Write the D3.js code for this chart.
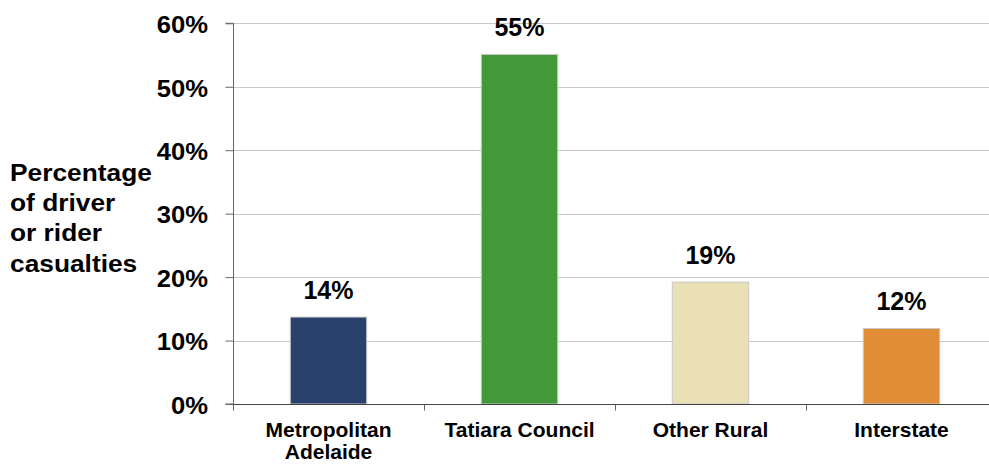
<!DOCTYPE html>
<html><head><meta charset="utf-8">
<script src="https://cdn.jsdelivr.net/npm/d3@7/dist/d3.min.js"></script>
<style>body{margin:0;background:#fff}svg{display:block}text{font-family:Arial,"Liberation Sans",sans-serif;font-weight:bold;fill:#000}</style>
</head><body>
<svg id="c" width="989" height="464"></svg>
<script>
const categories = [["Metropolitan","Adelaide"],["Tatiara Council"],["Other Rural"],["Interstate"]];
const values = [13.7, 55.1, 19.2, 11.9];
const labels = ["14%","55%","19%","12%"];
const colors = ["#2b416d","#43983a","#e9e0b6","#e18c36"];
const yTicks = [0,10,20,30,40,50,60];
const yTitle = ["Percentage","of driver","or rider","casualties"];

const svg = d3.select("#c");
const x0 = 233, x1 = 997, yTop = 23.3, yBot = 404;
const x = d3.scaleBand().domain(d3.range(categories.length)).range([x0, x1]).paddingInner(0.6).paddingOuter(0.3);
const xb = d3.scaleBand().domain(d3.range(categories.length)).range([x0, x1]);
const y = d3.scaleLinear().domain([0,60]).range([yBot, yTop]);

// gridlines
svg.append("g").selectAll("line").data(yTicks.slice(1)).join("line")
  .attr("x1", x0).attr("x2", x1).attr("y1", d=>Math.round(y(d))+0.5).attr("y2", d=>Math.round(y(d))+0.5)
  .attr("stroke", "#c8c8c8").attr("stroke-width", 1);

// bars
svg.append("g").selectAll("rect").data(values).join("rect")
  .attr("x", (d,i)=>x(i)).attr("width", x.bandwidth())
  .attr("y", d=>y(d)).attr("height", d=>yBot - y(d))
  .attr("fill", (d,i)=>colors[i]).attr("stroke", "#c8c8c8").attr("stroke-width", 1);

// value labels
svg.append("g").selectAll("text").data(values).join("text")
  .attr("x", (d,i)=>x(i)+x.bandwidth()/2).attr("y", d=>y(d)-18)
  .attr("text-anchor","middle").style("font-size","25px")
  .text((d,i)=>labels[i]);

// y axis
const yAxis = d3.axisLeft(y).tickValues(yTicks).tickFormat(d=>d+"%").tickSize(8).tickPadding(17);
const gy = svg.append("g").attr("transform", `translate(${x0+0.5},0)`).call(yAxis);
gy.select(".domain").attr("stroke","#666").attr("d", `M-8,${y(60)}H0V${yBot}H-8`);
gy.selectAll(".tick line").attr("stroke","#666");
gy.selectAll(".tick text").attr("x",0).attr("dy","9.3px")
  .attr("transform","translate(-25.5,0) scale(1.09,1)")
  .style("font-size","23.5px").style("font-family","Arial,'Liberation Sans',sans-serif").style("font-weight","bold").attr("fill","#000");

// x axis
const gx = svg.append("g").attr("transform", `translate(0,${yBot+0.5})`);
gx.append("line").attr("x1", x0).attr("x2", x1).attr("stroke","#444");
const bounds = d3.range(categories.length+1).map(i=> i<categories.length ? xb(i) : x1);
gx.selectAll("line.tk").data(bounds).join("line").attr("class","tk")
  .attr("x1", d=>Math.round(d)+0.5).attr("x2", d=>Math.round(d)+0.5).attr("y1",0).attr("y2",6).attr("stroke","#666");
const cl = gx.selectAll("text").data(categories).join("text")
  .attr("text-anchor","middle").style("font-size","21px")
  .attr("transform",(d,i)=>`translate(${xb(i)+xb.bandwidth()/2},32.5)`);
cl.selectAll("tspan").data(d=>d).join("tspan").attr("x",0).attr("dy",(d,j)=>j?"21.5px":0).text(d=>d);

// y title
svg.append("g").attr("transform","translate(10,0) scale(1.12,1)")
  .append("text").attr("x",0).attr("y",181).style("font-size","23.5px")
  .selectAll("tspan").data(yTitle).join("tspan").attr("x",0).attr("dy",(d,i)=>i?"30.2px":0).text(d=>d);
</script>
</body></html>
